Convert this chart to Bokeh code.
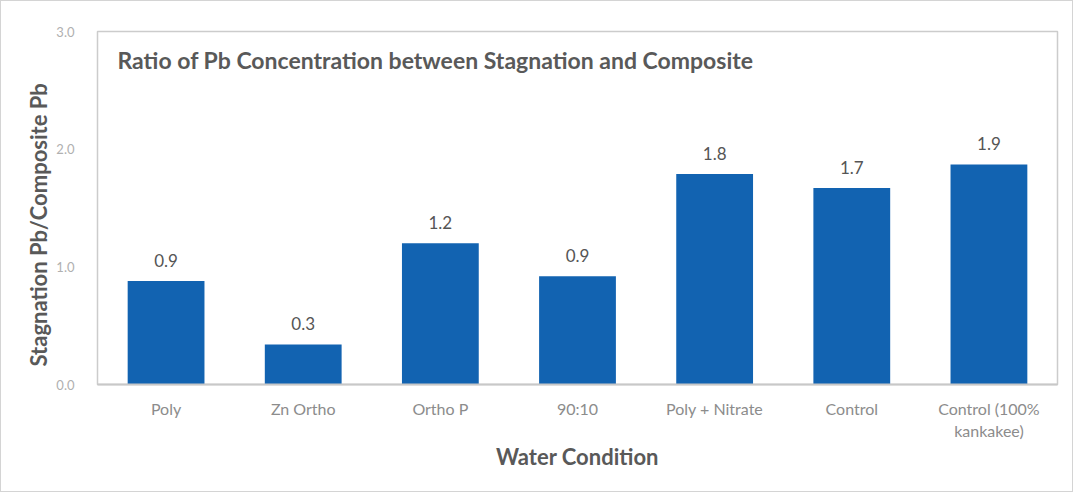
from bokeh.plotting import figure
from bokeh.models import ColumnDataSource, Range1d, Label, LabelSet, FixedTicker, PrintfTickFormatter, Title
from bokeh.embed import file_html
from bokeh.resources import INLINE
from bokeh.core.properties import value

categories = ["Poly", "Zn Ortho", "Ortho P", "90:10", "Poly + Nitrate", "Control", "Control (100%\nkankakee)"]
ratios = [0.88, 0.34, 1.20, 0.92, 1.79, 1.67, 1.87]
y_ticks = [0.0, 1.0, 2.0, 3.0]
title_text = "Ratio of Pb Concentration between Stagnation and Composite"
x_title = "Water Condition"
y_title = "Stagnation Pb/Composite Pb"

FONT = "Lato"
BAR = "#1263B1"

src = ColumnDataSource(dict(cat=categories, val=ratios, lab=[f"{v:.1f}" for v in ratios]))

p = figure(x_range=categories, y_range=Range1d(0, 3), width=1073, height=492,
           output_backend="svg", toolbar_location=None,
           min_border_left=96, min_border_top=30, min_border_right=17, min_border_bottom=109)
p.x_range.range_padding = 0
p.styles = {"border": "1px solid #d4d4d4"}

p.vbar(x="cat", top="val", width=0.56, source=src, fill_color=BAR, line_color=None)

p.add_layout(LabelSet(x="cat", y="val", text="lab", source=src, text_align="center",
                      text_baseline="bottom", y_offset=14, text_font=value(FONT),
                      text_font_size="17px", text_color="#555555"))

p.add_layout(Label(x=20, y=2.76, x_units="screen", text=title_text, text_font=FONT,
                   text_font_style="bold", text_font_size="23px", text_color="#595959",
                   text_baseline="middle"))

# y-axis title, placed slightly below centre as in the original
p.add_layout(Title(text=y_title, align="left", offset=18, text_font=FONT,
                   text_font_style="bold", text_font_size="22px", text_color="#595959",
                   standoff=4), "left")

p.xgrid.grid_line_color = None
p.ygrid.grid_line_color = None
p.outline_line_color = "#cccccc"
p.outline_line_width = 1.5

p.yaxis.ticker = FixedTicker(ticks=y_ticks)
p.yaxis.formatter = PrintfTickFormatter(format="%.1f")
p.yaxis.axis_line_color = None
p.yaxis.major_tick_line_color = None
p.yaxis.minor_tick_line_color = None
p.yaxis.major_label_text_color = "#b0b0b0"
p.yaxis.major_label_text_font = FONT
p.yaxis.major_label_text_font_size = "13px"
p.yaxis.major_label_standoff = 17

p.xaxis.axis_line_color = "#c8c8c8"
p.xaxis.axis_line_width = 2
p.xaxis.major_tick_line_color = None
p.xaxis.minor_tick_line_color = None
p.xaxis.major_label_text_color = "#8c8c8c"
p.xaxis.major_label_text_font = FONT
p.xaxis.major_label_text_font_size = "16px"
p.xaxis.major_label_standoff = 8
p.xaxis.axis_label = x_title
p.xaxis.axis_label_text_font = FONT
p.xaxis.axis_label_text_font_style = "bold"
p.xaxis.axis_label_text_font_size = "22px"
p.xaxis.axis_label_text_color = "#595959"
p.xaxis.axis_label_standoff = 0

open("out.html", "w").write(file_html(p, INLINE))
